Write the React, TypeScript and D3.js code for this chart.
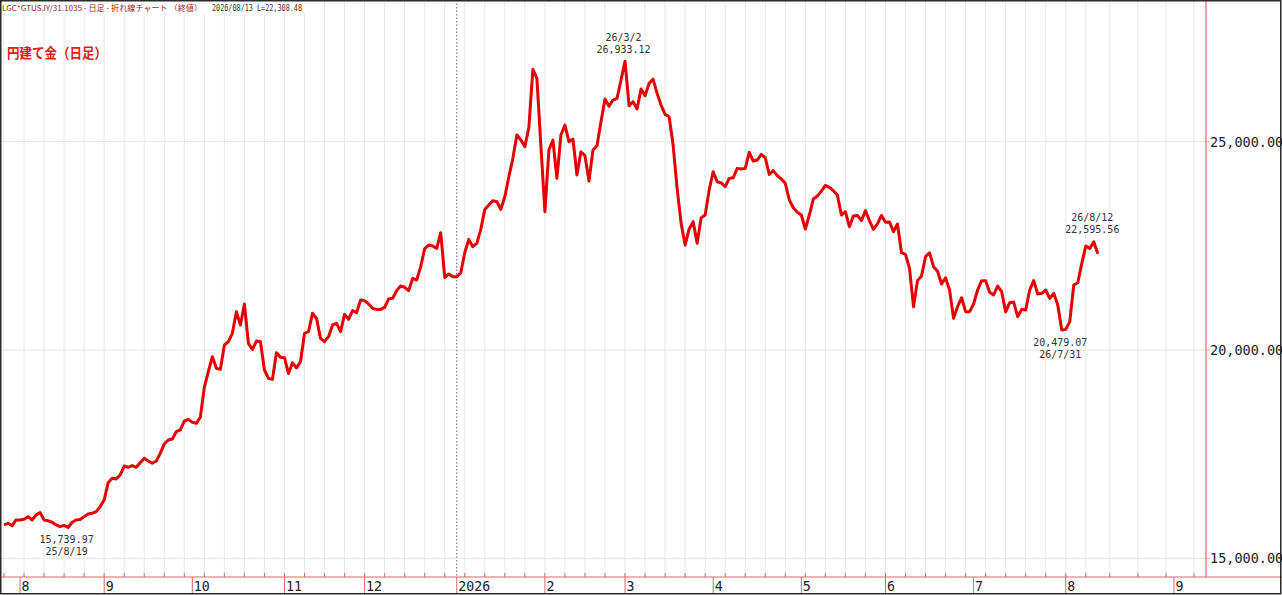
import React from "react";
import * as d3 from "d3";

// closing prices (yen per gram), one entry per weekday
const jul25 = [15800, 15840, 15780, 15920];
const aug25 = [
  15920, 15935, 16000, 15920, 16040, 16100, 15920, 15900, 15865, 15800, 15760,
  15790, 15739.97, 15865, 15920, 15930, 16000, 16065, 16080, 16120, 16240,
];
const sep25 = [
  16400, 16815, 16920, 16905, 17000, 17215, 17185, 17225, 17185, 17295, 17400,
  17335, 17280, 17335, 17520, 17745, 17840, 17865, 18040, 18080, 18295, 18335,
];
const oct25 = [
  18265, 18240, 18385, 19105, 19480, 19840, 19560, 19535, 20120, 20200, 20400,
  20920, 20600, 21105, 20160, 20015, 20215, 20200, 19520, 19320, 19295, 19935,
  19825,
];
const nov25 = [
  19815, 19435, 19690, 19570, 19720, 20400, 20440, 20880, 20760, 20280, 20200,
  20320, 20600, 20640, 20440, 20855, 20735, 20945, 20895, 21200,
];
const dec25 = [
  21185, 21105, 21000, 20975, 20975, 21025, 21225, 21240, 21425, 21535, 21505,
  21425, 21720, 21680, 22000, 22435, 22520, 22495, 22440, 22815, 21735, 21825,
  21760,
];
const jan26 = [
  21760, 21855, 22335, 22655, 22480, 22560, 22895, 23375, 23480, 23585, 23560,
  23375, 23680, 24160, 24600, 25160, 25040, 24880, 25345, 26735, 26520, 24900,
];
const feb26 = [
  23320, 24800, 25040, 24120, 25160, 25400, 25000, 25065, 24200, 24760, 24665,
  24055, 24800, 24905, 25480, 26025, 25850, 26000, 26040, 26480,
];
const mar26 = [
  26933.12, 25865, 25960, 25785, 26265, 26105, 26400, 26500, 26160, 25880,
  25655, 25600, 24920, 23880, 23040, 22520, 22905, 23080, 22560, 23175, 23240,
  23840,
];
const apr26 = [
  24280, 24040, 24010, 23920, 24120, 24135, 24360, 24345, 24360, 24745, 24535,
  24560, 24695, 24615, 24215, 24305, 24185, 24105, 24000, 23600, 23415, 23305,
];
const may26 = [
  23240, 22905, 23240, 23625, 23695, 23815, 23950, 23905, 23825, 23720, 23240,
  23320, 22960, 23215, 23230, 23105, 23345, 23105, 22895, 23025, 23230,
];
const jun26 = [
  23065, 23075, 22840, 23025, 22335, 22295, 21960, 21040, 21665, 21775, 22240,
  22335, 22000, 21890, 21585, 21735, 21440, 20760, 21040, 21255, 20920, 20920,
];
const jul26 = [
  21105, 21440, 21665, 21665, 21385, 21320, 21535, 21400, 20915, 21135, 21150,
  20800, 20975, 20960, 21440, 21665, 21345, 21360, 21440, 21240, 21360, 21080,
  20479.07,
];
const aug26 = [20495, 20680, 21560, 21615, 22080, 22495, 22440, 22595.56, 22308.48];

const yTicks = [15000, 20000, 25000];
const title = "円建て金（日足）";
const header = "LGC*GTUSJY/31.1035 - 日足 - 折れ線チャート （終値）";

// marked points: date and whether the label sits above or below
const notes = [
  { date: new Date(2025, 7, 19), pos: "below" },
  { date: new Date(2026, 2, 2), pos: "above" },
  { date: new Date(2026, 6, 31), pos: "below" },
  { date: new Date(2026, 7, 12), pos: "above" },
];

const values = [
  ...jul25, ...aug25, ...sep25, ...oct25, ...nov25, ...dec25,
  ...jan26, ...feb26, ...mar26, ...apr26, ...may26, ...jun26, ...jul26, ...aug26,
];

const firstDay = new Date(2025, 6, 28);
const lastDay = new Date(2026, 7, 13);
const tradingDays = d3.timeDay
  .range(firstDay, d3.timeDay.offset(lastDay, 1))
  .filter((d) => d.getDay() !== 0 && d.getDay() !== 6);
// blank space after the last close runs on calendar days
const futureDays = d3.timeDay.range(d3.timeDay.offset(lastDay, 1), new Date(2026, 8, 11));
const axisDays = tradingDays.concat(futureDays);

const W = 1282;
const H = 595;
const plotRight = 1206;
const axisY = 577;
const red = "#e60000";
const axisRed = "#d46a6a";
const mono = "'DejaVu Sans Mono', monospace";

export default function App() {
  const x = d3.scaleLinear().domain([-1, 300]).range([0, plotRight]);
  const y = d3.scaleLinear().domain([15000, 25000]).range([558.3, 141.7]);

  const line = d3
    .line<number>()
    .x((_, j) => x(j))
    .y((v) => y(v));

  const weekStarts = axisDays
    .map((d, j) => ({ d, j }))
    .filter(({ d, j }) => j === 0 || +d3.timeWeek.floor(d) !== +d3.timeWeek.floor(axisDays[j - 1]));
  const monthStarts = axisDays
    .map((d, j) => ({ d, j }))
    .filter(({ d, j }) => j > 0 && d.getMonth() !== axisDays[j - 1].getMonth());

  const fmtVal = d3.format(",.2f");
  const fmtDate = d3.timeFormat("%y/%-m/%-d");
  const lastIdx = values.length - 1;
  const headerRight =
    d3.timeFormat("%Y/%m/%d")(tradingDays[lastIdx]) + " L=" + fmtVal(values[lastIdx]);

  return (
    <svg
      width={W}
      height={H}
      style={{ position: "absolute", left: 0, top: 0, background: "#fff" }}
    >
      {/* grid */}
      {weekStarts.map(({ j }) => (
        <line key={"g" + j} x1={x(j)} x2={x(j)} y1={0} y2={axisY} stroke="#e9e9e9" strokeWidth={1} />
      ))}
      {yTicks.map((t) => (
        <line key={"h" + t} x1={0} x2={plotRight} y1={y(t)} y2={y(t)} stroke="#e6e6e6" strokeWidth={1} />
      ))}
      {monthStarts
        .filter(({ d }) => d.getMonth() === 0)
        .map(({ j }) => (
          <line key={"yr" + j} x1={x(j)} x2={x(j)} y1={0} y2={axisY} stroke="#5b6690" strokeWidth={1} strokeDasharray="1.5,2" />
        ))}

      {/* header */}
      <rect x={0} y={0} width={306} height={13} fill="#fff" />
      <text x={2} y={11} fontSize={7.6} fontFamily="'Noto Sans CJK JP', sans-serif" fill="#9a1c1c" textLength={200} lengthAdjust="spacingAndGlyphs">
        {header}
      </text>
      <text x={212} y={11} fontSize={9} fontFamily={mono} fill="#333" textLength={90} lengthAdjust="spacingAndGlyphs">
        {headerRight}
      </text>
      <text x={7} y={58} fontSize={14} fontWeight="bold" fontFamily="'Noto Sans CJK JP', sans-serif" fill="#e31818" textLength={100} lengthAdjust="spacingAndGlyphs">
        {title}
      </text>

      {/* series */}
      <path d={line(values) ?? ""} fill="none" stroke={red} strokeWidth={3} strokeLinejoin="round" />

      {/* annotations */}
      {notes.map(({ date, pos }) => {
        const j = tradingDays.findIndex((d) => +d === +date);
        const v = values[j];
        const cx = x(j) - 1.5;
        const lines = pos === "above" ? [fmtDate(date), fmtVal(v)] : [fmtVal(v), fmtDate(date)];
        const y0 = pos === "above" ? y(v) - 20.5 : y(v) + 15.5;
        return (
          <g key={"n" + j} fontFamily={mono} fontSize={10} fill="#333" textAnchor="middle">
            <text x={cx} y={y0}>{lines[0]}</text>
            <text x={cx} y={y0 + 12}>{lines[1]}</text>
          </g>
        );
      })}

      {/* axes */}
      <line x1={0} x2={W} y1={axisY} y2={axisY} stroke={axisRed} strokeWidth={1.2} />
      <line x1={plotRight} x2={plotRight} y1={0} y2={axisY} stroke={axisRed} strokeWidth={1.2} />
      {weekStarts.map(({ j }) => (
        <line key={"wt" + j} x1={x(j)} x2={x(j)} y1={axisY - 4} y2={axisY} stroke={axisRed} strokeWidth={1} />
      ))}
      {monthStarts.map(({ d, j }) => (
        <g key={"m" + j}>
          <line x1={x(j)} x2={x(j)} y1={axisY} y2={H - 2} stroke={axisRed} strokeWidth={1} />
          <text x={x(j) + 1.5} y={591} fontSize={14} fontFamily={mono} fill="#222" textLength={d.getMonth() === 0 ? 32 : d.getMonth() + 1 >= 10 ? 16 : 8} lengthAdjust="spacingAndGlyphs">
            {d.getMonth() === 0 ? d.getFullYear() : d.getMonth() + 1}
          </text>
        </g>
      ))}
      {yTicks.map((t) => (
        <g key={"yt" + t}>
          <line x1={plotRight} x2={plotRight + 4} y1={y(t)} y2={y(t)} stroke="#bbb" strokeWidth={1} />
          <text x={1210} y={y(t)} dy="0.36em" fontSize={13.5} fontFamily={mono} fill="#222">
            {fmtVal(t)}
          </text>
        </g>
      ))}

      {/* outer frame */}
      <rect x={0.75} y={0.75} width={W - 2} height={H - 2} fill="none" stroke="#2a2a2a" strokeWidth={1.5} />
    </svg>
  );
}
